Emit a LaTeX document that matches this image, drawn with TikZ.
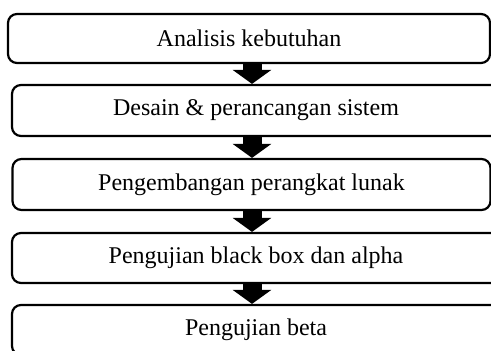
\documentclass[tikz,border=0pt]{standalone}
\usepackage{fontspec}
\setmainfont{Liberation Serif}
\usetikzlibrary{arrows.meta}
\begin{document}
\begin{tikzpicture}[x=1pt, y=-1pt, font=\fontsize{24}{28}\selectfont, line join=round,
	tahap/.style={draw, line width=2.2pt, rounded corners=9pt, inner sep=0pt},
	panah/.style={line width=19pt, -{Triangle[width=38pt,length=14pt]}}]
	\useasboundingbox (0,0) rectangle (491,351);
	% kotak tiap tahap
	\node[tahap, minimum width=482pt, minimum height=49pt] (analisis) at (249,38.5) {Analisis kebutuhan};
	\node[tahap, minimum width=488pt, minimum height=51pt] (desain) at (256,110.5) {Desain \& perancangan sistem};
	\node[tahap, minimum width=478pt, minimum height=51pt] (pengembangan) at (251.5,184.5) {Pengembangan perangkat lunak};
	\node[tahap, minimum width=488pt, minimum height=50pt] (alpha) at (256,258) {Pengujian black box dan alpha};
	\node[tahap, minimum width=488pt, minimum height=50pt] (beta) at (256,330) {Pengujian beta};
	% panah antar tahap
	\coordinate (tengah) at (252,0);
	\draw[panah] (analisis.south -| tengah) -- (desain.north -| tengah);
	\draw[panah] (desain.south -| tengah) -- (pengembangan.north -| tengah);
	\draw[panah] (pengembangan.south -| tengah) -- (alpha.north -| tengah);
	\draw[panah] (alpha.south -| tengah) -- (beta.north -| tengah);
\end{tikzpicture}
\end{document}
